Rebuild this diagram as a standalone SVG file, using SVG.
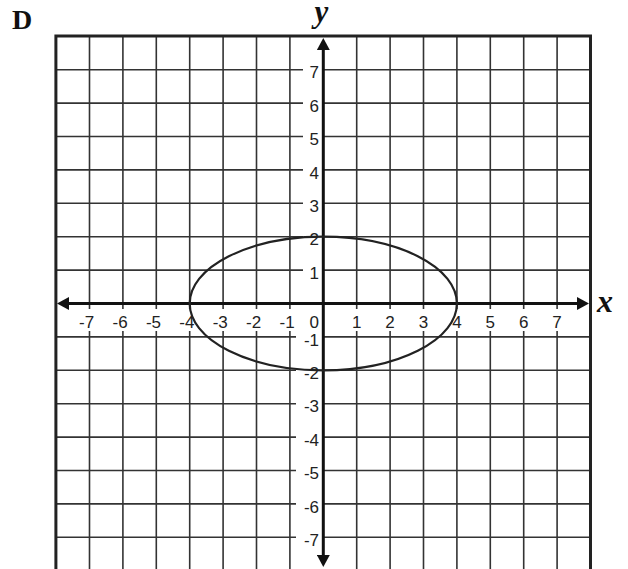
<svg xmlns="http://www.w3.org/2000/svg" width="628" height="569" viewBox="0 0 628 569">
<style>
.grid line{stroke:#333;stroke-width:1.6}
.border{fill:none;stroke:#222;stroke-width:3}
.axis{stroke:#111;stroke-width:3}
.lbl{font-family:"Liberation Sans",Arial,sans-serif;font-size:17px;fill:#222}
.xl{text-anchor:end}
.bg{fill:#fff}
.curve{fill:none;stroke:#222;stroke-width:2.2}
</style>
<defs>
<marker id="ah" viewBox="0 0 12 13" refX="7" refY="6.5" markerWidth="12" markerHeight="13" markerUnits="userSpaceOnUse" orient="auto-start-reverse">
<path d="M0,0 L12,6.5 L0,13 z" fill="#111"/>
</marker>
</defs>
<rect width="628" height="569" fill="#fff"/>
<text x="12" y="29" font-family="Liberation Serif,serif" font-weight="bold" font-size="28" fill="#111">D</text>
<g id="grid" class="grid">
<line x1="89.5" y1="36.1" x2="89.5" y2="572"/>
<line x1="122.9" y1="36.1" x2="122.9" y2="572"/>
<line x1="156.3" y1="36.1" x2="156.3" y2="572"/>
<line x1="189.7" y1="36.1" x2="189.7" y2="572"/>
<line x1="223.1" y1="36.1" x2="223.1" y2="572"/>
<line x1="256.5" y1="36.1" x2="256.5" y2="572"/>
<line x1="289.9" y1="36.1" x2="289.9" y2="572"/>
<line x1="356.7" y1="36.1" x2="356.7" y2="572"/>
<line x1="390.1" y1="36.1" x2="390.1" y2="572"/>
<line x1="423.5" y1="36.1" x2="423.5" y2="572"/>
<line x1="456.9" y1="36.1" x2="456.9" y2="572"/>
<line x1="490.3" y1="36.1" x2="490.3" y2="572"/>
<line x1="523.7" y1="36.1" x2="523.7" y2="572"/>
<line x1="557.1" y1="36.1" x2="557.1" y2="572"/>
<line x1="55.9" y1="69.7" x2="590.5" y2="69.7"/>
<line x1="55.9" y1="103.1" x2="590.5" y2="103.1"/>
<line x1="55.9" y1="136.5" x2="590.5" y2="136.5"/>
<line x1="55.9" y1="169.9" x2="590.5" y2="169.9"/>
<line x1="55.9" y1="203.3" x2="590.5" y2="203.3"/>
<line x1="55.9" y1="236.7" x2="590.5" y2="236.7"/>
<line x1="55.9" y1="270.1" x2="590.5" y2="270.1"/>
<line x1="55.9" y1="336.9" x2="590.5" y2="336.9"/>
<line x1="55.9" y1="370.3" x2="590.5" y2="370.3"/>
<line x1="55.9" y1="403.7" x2="590.5" y2="403.7"/>
<line x1="55.9" y1="437.1" x2="590.5" y2="437.1"/>
<line x1="55.9" y1="470.5" x2="590.5" y2="470.5"/>
<line x1="55.9" y1="503.9" x2="590.5" y2="503.9"/>
<line x1="55.9" y1="537.3" x2="590.5" y2="537.3"/>
</g>
<path class="border" d="M55.9,572 V36.1 H590.5 V572"/>
<g id="labels" class="lbl">
<g id="xlabels" class="xl">
<rect class="bg" x="73" y="309" width="22" height="22"/><text x="94.2" y="328">-7</text>
<rect class="bg" x="106.4" y="309" width="22" height="22"/><text x="127.6" y="328">-6</text>
<rect class="bg" x="139.8" y="309" width="22" height="22"/><text x="161" y="328">-5</text>
<rect class="bg" x="173.2" y="309" width="22" height="22"/><text x="194.4" y="328">-4</text>
<rect class="bg" x="206.6" y="309" width="22" height="22"/><text x="227.8" y="328">-3</text>
<rect class="bg" x="240" y="309" width="22" height="22"/><text x="261.2" y="328">-2</text>
<rect class="bg" x="273.4" y="309" width="22" height="22"/><text x="294.6" y="328">-1</text>
<rect class="bg" x="350.2" y="309" width="13" height="22"/><text x="361.4" y="328">1</text>
<rect class="bg" x="383.6" y="309" width="13" height="22"/><text x="394.8" y="328">2</text>
<rect class="bg" x="417" y="309" width="13" height="22"/><text x="428.2" y="328">3</text>
<rect class="bg" x="450.4" y="309" width="13" height="22"/><text x="461.6" y="328">4</text>
<rect class="bg" x="483.8" y="309" width="13" height="22"/><text x="495" y="328">5</text>
<rect class="bg" x="517.2" y="309" width="13" height="22"/><text x="528.4" y="328">6</text>
<rect class="bg" x="550.6" y="309" width="13" height="22"/><text x="561.8" y="328">7</text>
</g>
<g id="ylabels" class="xl">
<rect class="bg" x="303" y="63.5" width="19" height="17"/><text x="319" y="78.4">7</text>
<rect class="bg" x="303" y="96.9" width="19" height="17"/><text x="319" y="111.8">6</text>
<rect class="bg" x="303" y="130.3" width="19" height="17"/><text x="319" y="145.2">5</text>
<rect class="bg" x="303" y="163.7" width="19" height="17"/><text x="319" y="178.6">4</text>
<rect class="bg" x="303" y="197.1" width="19" height="17"/><text x="319" y="212">3</text>
<rect class="bg" x="303" y="230.5" width="19" height="17"/><text x="319" y="245.4">2</text>
<rect class="bg" x="303" y="263.9" width="19" height="17"/><text x="319" y="278.8">1</text>
<rect class="bg" x="308" y="309" width="14" height="22"/><text x="319" y="328">0</text>
<rect class="bg" x="296" y="330.7" width="26" height="17"/><text x="319" y="345.6">-1</text>
<rect class="bg" x="296" y="364.1" width="26" height="17"/><text x="319" y="379">-2</text>
<rect class="bg" x="296" y="397.5" width="26" height="17"/><text x="319" y="412.4">-3</text>
<rect class="bg" x="296" y="430.9" width="26" height="17"/><text x="319" y="445.8">-4</text>
<rect class="bg" x="296" y="464.3" width="26" height="17"/><text x="319" y="479.2">-5</text>
<rect class="bg" x="296" y="497.7" width="26" height="17"/><text x="319" y="512.6">-6</text>
<rect class="bg" x="296" y="531.1" width="26" height="17"/><text x="319" y="546">-7</text>
</g>
</g>
<g id="axes">
<line class="axis" x1="62" y1="303.5" x2="584" y2="303.5" marker-start="url(#ah)" marker-end="url(#ah)"/>
<line class="axis" x1="323.3" y1="43" x2="323.3" y2="562" marker-start="url(#ah)" marker-end="url(#ah)"/>
</g>
<text x="321.5" y="22" text-anchor="middle" font-family="Liberation Serif,serif" font-style="italic" font-weight="bold" font-size="31" fill="#111">y</text>
<text x="597" y="311.7" font-family="Liberation Serif,serif" font-style="italic" font-weight="bold" font-size="32" fill="#111">x</text>
<g id="ellipse">
<ellipse class="curve" cx="323.3" cy="303.5" rx="133.6" ry="66.8"/>
</g>
</svg>
